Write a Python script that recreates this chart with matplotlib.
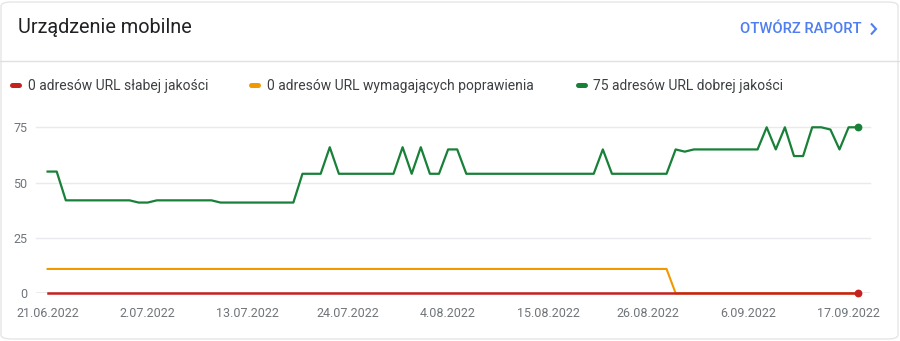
import matplotlib
matplotlib.use("Agg")
import matplotlib.pyplot as plt
import matplotlib.dates as mdates
from matplotlib.lines import Line2D
from matplotlib.patches import FancyBboxPatch
import numpy as np
import pandas as pd

plt.rcParams['font.family'] = ['Roboto', 'DejaVu Sans']

# ---- data ----
start_date = "2022-06-21"
n_days = 90
good = ([55, 55] + [42] * 8 + [41, 41] + [42] * 7 + [41] * 9 + [54] * 3 + [66]
        + [54] * 7 + [66, 54, 66, 54, 54, 65, 65] + [54] * 15 + [65] + [54] * 7
        + [65, 64] + [65] * 8 + [75, 65, 75, 62, 62, 75, 75, 74, 65, 75, 75])
needs_improvement = [11] * 69 + [0] * 21
poor = [0] * 90
tick_labels = ["21.06.2022", "2.07.2022", "13.07.2022", "24.07.2022", "4.08.2022",
               "15.08.2022", "26.08.2022", "6.09.2022", "17.09.2022"]
y_ticks = [0, 25, 50, 75]
legend_labels = ["0 adresów URL słabej jakości",
                 "0 adresów URL wymagających poprawienia",
                 "75 adresów URL dobrej jakości"]
title = "Urządzenie mobilne"
link_text = "OTWÓRZ RAPORT"

dates = pd.date_range(start_date, periods=n_days, freq="D")
tick_dates = pd.to_datetime(tick_labels, format="%d.%m.%Y")

RED = "#c5221f"
ORANGE = "#f29900"
GREEN = "#188038"

W, H = 900, 341
fig = plt.figure(figsize=(W / 100, H / 100), dpi=100)


def fx(x):
    return x / W


def fy(y):
    return 1 - y / H


# card border
card = FancyBboxPatch((fx(1), fy(339)), fx(897), 337 / H,
                      boxstyle="round,pad=0,rounding_size=0.012",
                      transform=fig.transFigure, facecolor="white",
                      edgecolor="#e6e6e6", linewidth=1.0, zorder=-10)
fig.patches.append(card)

# header
fig.text(fx(18), fy(33.3), title, fontsize=14.3, color="#202124",
         va="baseline", ha="left")
fig.text(fx(862), fy(33.3), link_text, fontsize=10.6, color="#4f7ef0",
         fontweight="medium", va="baseline", ha="right")
fig.add_artist(Line2D([fx(871), fx(876), fx(871)], [fy(23.5), fy(29), fy(34.5)],
                      transform=fig.transFigure, color="#4f7ef0", lw=1.5,
                      solid_joinstyle="miter", solid_capstyle="butt"))
fig.add_artist(Line2D([0, 1], [fy(60.5), fy(60.5)], transform=fig.transFigure,
                      color="#e0e0e0", lw=1.0))

# legend
leg_x = [(10, 28), (249, 267), (576, 593)]
for (mx, tx), lab, col in zip(leg_x, legend_labels, [RED, ORANGE, GREEN]):
    fig.add_artist(Line2D([fx(mx + 2), fx(mx + 9)], [fy(85), fy(85)],
                          transform=fig.transFigure, color=col, lw=3.6,
                          solid_capstyle="round"))
    fig.text(fx(tx), fy(89.7), lab, fontsize=10.0, color="#3c4043",
             va="baseline", ha="left")

# axes
ax_left, ax_right = 36, 870
y0_px, y75_px = 293.3, 127.3
ax = fig.add_axes([fx(ax_left), fy(y0_px), (ax_right - ax_left) / W,
                   (y0_px - y75_px) / H])
ax.set_facecolor("none")
ax.set_zorder(2)

d0 = mdates.date2num(dates[0])
px_per_day = (857.7 - 47.6) / 89
ax.set_xlim(d0 - (47.6 - ax_left) / px_per_day, d0 + (ax_right - 47.6) / px_per_day)
ax.set_ylim(0, 75)

for yt in y_ticks[1:]:
    ax.axhline(yt, color="#e8eaed", lw=1.0, zorder=1, clip_on=False)
ax.axhline(0, color="#9aa0a6", lw=1.0, zorder=1)

ax.plot(dates, needs_improvement, color=ORANGE, lw=1.5, zorder=3, clip_on=False)
ax.plot(dates, poor, color=RED, lw=1.8, zorder=4, clip_on=False)
ax.plot(dates, good, color=GREEN, lw=1.6, zorder=5, clip_on=False)
ax.plot(dates[-1:], poor[-1:], "o", color=RED, ms=4.6, zorder=6, clip_on=False)
ax.plot(dates[-1:], good[-1:], "o", color=GREEN, ms=4.6, zorder=6, clip_on=False)

for s in ax.spines.values():
    s.set_visible(False)
ax.set_yticks(y_ticks)
ax.set_yticklabels([str(v) for v in y_ticks])
ax.set_xticks(tick_dates)
ax.set_xticklabels(tick_labels)
ax.tick_params(axis="both", length=0, labelsize=9, labelcolor="#70757a")
ax.tick_params(axis="y", pad=6)
ax.tick_params(axis="x", pad=10)

fig.savefig("out.png", dpi=100)
